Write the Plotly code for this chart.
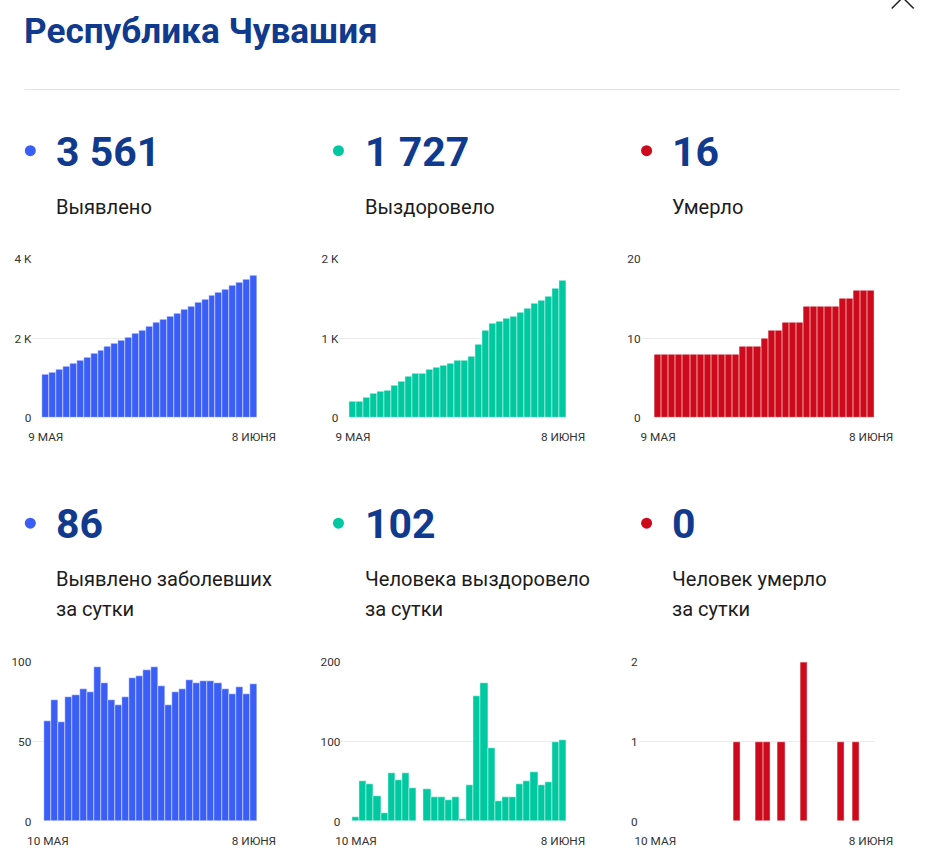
import plotly.graph_objects as go
import pandas as pd

W, H = 927, 865

# ---------------- data ----------------
dates_total = [d.strftime("%Y-%m-%d") for d in pd.date_range("2020-05-09", "2020-06-08")]
dates_daily = [d.strftime("%Y-%m-%d") for d in pd.date_range("2020-05-10", "2020-06-08")]

cases_total = [1081, 1144, 1220, 1282, 1360, 1439, 1522, 1603, 1700, 1787, 1863, 1936, 2014, 2104,
               2195, 2290, 2387, 2472, 2545, 2626, 2709, 2798, 2885, 2973, 3061, 3148, 3231, 3311,
               3395, 3475, 3561]
recovered_total = [201, 206, 256, 303, 335, 345, 406, 458, 518, 560, 560, 600, 630, 660, 687, 718,
                   721, 766, 923, 1096, 1188, 1213, 1243, 1273, 1320, 1370, 1432, 1477, 1526, 1625, 1727]
deaths_total = [8, 8, 8, 8, 8, 8, 8, 8, 8, 8, 8, 8, 9, 9, 9, 10, 11, 11, 12, 12, 12, 14, 14, 14, 14,
                14, 15, 15, 16, 16, 16]

cases_daily = [63, 76, 62, 78, 79, 83, 81, 97, 87, 76, 73, 78, 90, 91, 95, 97, 85, 73, 81, 83, 89,
               87, 88, 88, 87, 83, 80, 84, 80, 86]
recovered_daily = [5, 50, 47, 32, 10, 61, 52, 60, 42, 0, 40, 30, 30, 27, 31, 3, 45, 157, 173, 92, 25,
                   30, 30, 47, 50, 62, 45, 49, 99, 102]
deaths_daily = [0, 0, 0, 0, 0, 0, 0, 0, 0, 0, 0, 1, 0, 0, 1, 1, 0, 1, 0, 0, 2, 0, 0, 0, 0, 1, 0, 1,
                0, 0]

title_text = "Республика Чувашия"
big_numbers = ["3 561", "1 727", "16", "86", "102", "0"]
labels_line1 = ["Выявлено", "Выздоровело", "Умерло",
                "Выявлено заболевших", "Человека выздоровело", "Человек умерло"]
labels_line2 = ["", "", "", "за сутки", "за сутки", "за сутки"]

total_ticks = ["9 МАЯ", "8 ИЮНЯ"]
daily_ticks = ["10 МАЯ", "8 ИЮНЯ"]

y_tickvals = [[0, 2000, 4000], [0, 1000, 2000], [0, 10, 20],
              [0, 50, 100], [0, 100, 200], [0, 1, 2]]
y_ticktext = [["0", "2 K", "4 K"], ["0", "1 K", "2 K"], ["0", "10", "20"],
              ["0", "50", "100"], ["0", "100", "200"], ["0", "1", "2"]]

# ---------------- style ----------------
BLUE = "#3b5ef6"
GREEN = "#00c9a1"
RED = "#cc0a1c"
NAVY = "#0f3a8d"
colors = [BLUE, GREEN, RED, BLUE, GREEN, RED]

# compensation for the way the page is captured (measured offset/scale)
SX, AX = 0.9726, 6.7
SY, AY = 0.9826, 7.5
FS = 0.976

def px(t):
    return ((t - AX) / SX) / W

def py(t):
    return 1 - ((t - AY) / SY) / H

def fs(s):
    return s / FS

series = [
    (dates_total, cases_total),
    (dates_total, recovered_total),
    (dates_total, deaths_total),
    (dates_daily, cases_daily),
    (dates_daily, recovered_daily),
    (dates_daily, deaths_daily),
]

# plot areas in target pixels: (left, right, left padding in bars)
x_areas = [(33, 258, 1.44), (340, 567, 1.43), (642, 875, 1.83),
           (33, 258, 1.69), (342, 567, 1.54), (639, 875, 1.75)]
y_areas = [(259, 418)] * 3 + [(662, 821)] * 3

fig = go.Figure()
layout = dict(
    width=W, height=H,
    margin=dict(l=0, r=0, t=0, b=0),
    paper_bgcolor="white", plot_bgcolor="white",
    showlegend=False, bargap=0,
    font=dict(family="Roboto, sans-serif", color="#333333"),
)

for i, (xs, ys) in enumerate(series):
    n = i + 1
    sfx = "" if n == 1 else str(n)
    fig.add_trace(go.Bar(
        x=xs, y=ys, xaxis="x" + sfx, yaxis="y" + sfx,
        marker=dict(color=colors[i], line=dict(color="rgba(255,255,255,0.45)", width=1)),
        hoverinfo="x+y",
    ))
    left, right, pad = x_areas[i]
    top, bottom = y_areas[i]
    cnt = len(xs)
    ticks_txt = total_ticks if i < 3 else daily_ticks
    layout["xaxis" + sfx] = dict(
        domain=[px(left), px(right)], anchor="y" + sfx, type="category",
        range=[-0.5 - pad, cnt - 0.5],
        tickvals=[xs[0], xs[-1]], ticktext=ticks_txt,
        showgrid=False, zeroline=False, showline=False,
        ticks="outside", ticklen=8, tickcolor="rgba(0,0,0,0)",
        tickfont=dict(size=fs(11.5), color="#333333"),
        fixedrange=True,
    )
    layout["yaxis" + sfx] = dict(
        domain=[py(bottom), py(top)], anchor="x" + sfx,
        range=[0, y_tickvals[i][-1]],
        tickvals=y_tickvals[i], ticktext=y_ticktext[i],
        showgrid=True, gridcolor="#ececec", gridwidth=1,
        zeroline=False, showline=False, ticks="",
        tickfont=dict(size=fs(11.5), color="#333333"),
        fixedrange=True,
    )

fig.update_layout(**layout)

annotations = []
shapes = []

# title
annotations.append(dict(
    x=px(23), y=py(31), xref="paper", yref="paper", xanchor="left", yanchor="middle",
    text="<b>" + title_text + "</b>", showarrow=False,
    font=dict(family="Roboto", size=fs(34.3), color=NAVY),
))
# separator
shapes.append(dict(type="line", xref="paper", yref="paper",
                   x0=px(25), x1=px(900), y0=py(90), y1=py(90),
                   line=dict(color="#e2e2e2", width=1)))
# close icon (partially cropped)
shapes.append(dict(type="line", xref="paper", yref="paper",
                   x0=px(892), y0=py(-13), x1=px(914), y1=py(9),
                   line=dict(color="#222222", width=1.5)))
shapes.append(dict(type="line", xref="paper", yref="paper",
                   x0=px(914), y0=py(-13), x1=px(892), y1=py(9),
                   line=dict(color="#222222", width=1.5)))

col_dot_x = [31, 339, 647]
col_text_x = [55, 364, 670]
row_num_y = [151, 523]
row_lab_y = [207, 579]

for i in range(6):
    c = i % 3
    r = i // 3
    # dot
    shapes.append(dict(type="circle", xref="paper", yref="paper",
                       x0=px(col_dot_x[c] - 5.5), x1=px(col_dot_x[c] + 5.5),
                       y0=py(row_num_y[r] + 5.5), y1=py(row_num_y[r] - 5.5),
                       fillcolor=colors[i], line=dict(width=0)))
    annotations.append(dict(
        x=px(col_text_x[c]), y=py(row_num_y[r] + 1), xref="paper", yref="paper",
        xanchor="left", yanchor="middle", showarrow=False,
        text="<b>" + big_numbers[i] + "</b>",
        font=dict(family="Roboto", size=fs(40), color=NAVY),
    ))
    annotations.append(dict(
        x=px(col_text_x[c]), y=py(row_lab_y[r]), xref="paper", yref="paper",
        xanchor="left", yanchor="middle", showarrow=False,
        text=labels_line1[i],
        font=dict(family="Roboto", size=fs(19.6), color="#1c1c1c"),
    ))
    if labels_line2[i]:
        annotations.append(dict(
            x=px(col_text_x[c]), y=py(row_lab_y[r] + 30), xref="paper", yref="paper",
            xanchor="left", yanchor="middle", showarrow=False,
            text=labels_line2[i],
            font=dict(family="Roboto", size=fs(19.6), color="#1c1c1c"),
        ))

fig.update_layout(annotations=annotations, shapes=shapes)

fig.write_html(
    "out.html",
    config={"displayModeBar": False},
    post_script="document.body.style.margin='0';document.body.style.padding='0';"
                "document.body.style.overflow='hidden';"
                "document.documentElement.style.overflow='hidden';",
)
